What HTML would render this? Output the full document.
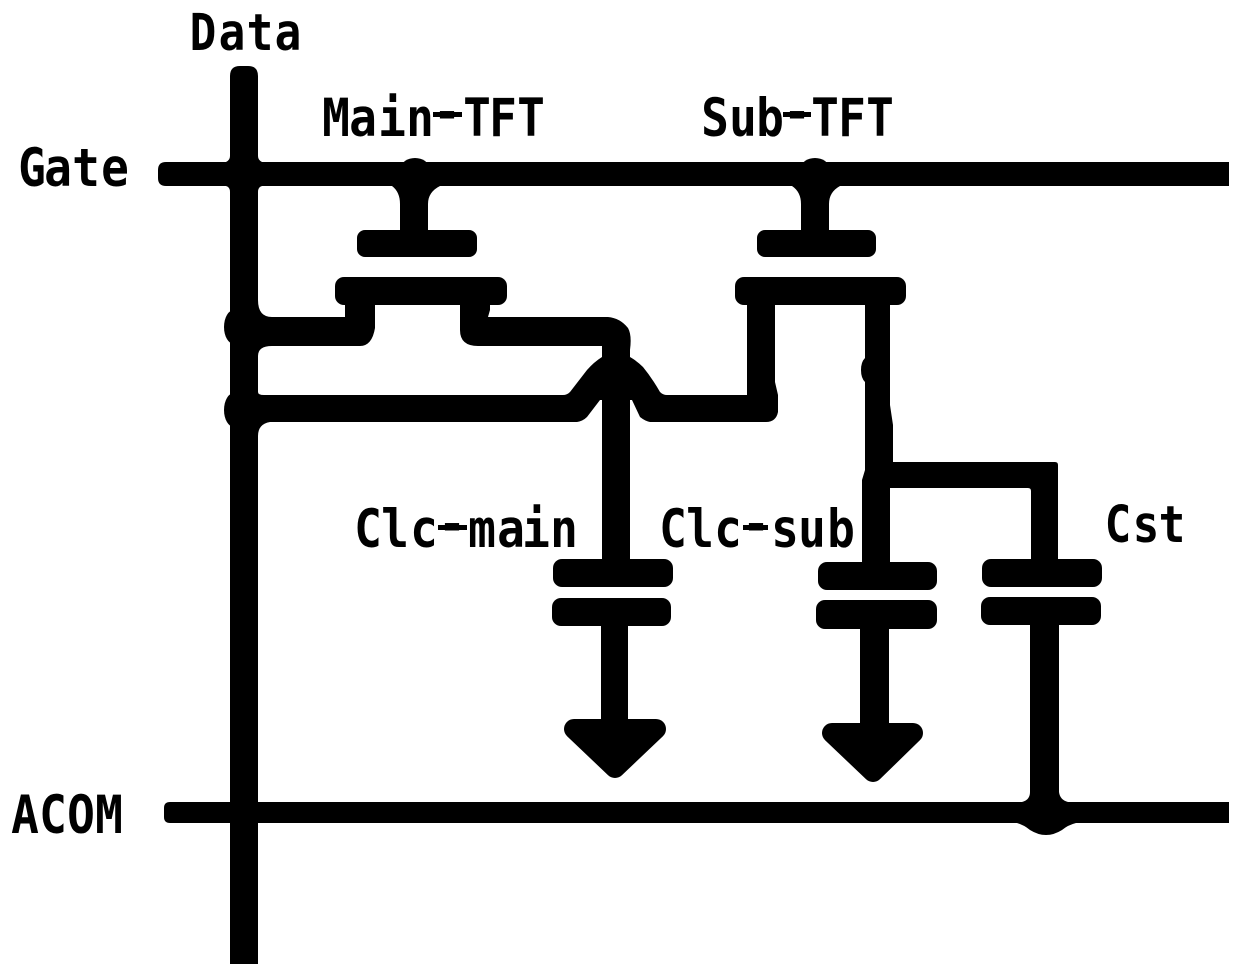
<!DOCTYPE html>
<html>
<head>
<meta charset="utf-8">
<style>
html,body{margin:0;padding:0;background:#fff;width:1240px;height:974px;overflow:hidden}
svg{display:block}
text{font-family:"DejaVu Sans Mono",monospace;font-weight:bold;fill:#000;text-anchor:middle}
</style>
</head>
<body>
<svg width="1240" height="974" viewBox="0 0 1240 974" xmlns="http://www.w3.org/2000/svg">
<rect width="1240" height="974" fill="#fff"/>
<g fill="#000">
  <!-- Data bus -->
  <path d="M230 964V76Q230 66 240 66H248Q258 66 258 76V964Z"/>
  <!-- Gate bus -->
  <path d="M1229 162V186H166Q158 186 158 178V170Q158 162 166 162Z"/>
  <!-- ACOM bus -->
  <path d="M1229 802V823H170Q164 823 164 817V808Q164 802 170 802Z"/>
  <!-- bus fillets -->
  <path d="M226 162Q230 160 230 156V192Q230 187 226 186ZM262 162Q258 160 258 156V192Q258 187 262 186Z"/>

  <!-- Main TFT gate -->
  <ellipse cx="415" cy="168" rx="14" ry="10"/>
  <path d="M392 186Q400 192 400 204V232H428V204Q428 192 440 186Z"/>
  <rect x="357" y="230" width="120" height="27" rx="8"/>
  <!-- Main TFT source/drain bar -->
  <rect x="335" y="277" width="172" height="28" rx="9"/>
  <path d="M250 300H258Q258 317 272 317H345V295H375V328Q372 346 360 346H272Q258 346 258 356H250Z"/>
  <path d="M460 295H490V310L488 317H608Q620 318 628 328Q632 335 630 350V360H602V346H478Q460 346 460 330Z"/>
  <ellipse cx="234" cy="327" rx="10" ry="17"/>

  <!-- Crossing wire with hop -->
  <path d="M250 392H258Q258 395 264 395H563Q567 395 570 392L587 370Q594 362 602 357H630Q637 361 643 367Q652 378 660 392Q663 395 667 395H747V300H775V382L778 395V412Q776 422 766 422H650Q645 421 640 417L632 400H600L587 417Q583 421 577 422H270Q258 424 258 436H250Z"/>
  <ellipse cx="234" cy="410" rx="10" ry="17"/>
  <!-- Main pixel trunk -->
  <rect x="602" y="340" width="28" height="225"/>

  <!-- Sub TFT gate -->
  <ellipse cx="815" cy="168" rx="14" ry="10"/>
  <path d="M792 186Q801 192 801 204V232H829V204Q829 192 840 186Z"/>
  <rect x="757" y="230" width="119" height="27" rx="8"/>
  <!-- Sub TFT bar -->
  <rect x="735" y="277" width="171" height="28" rx="9"/>
  <path d="M865 300H890V405L893 425V465H890V565H862V480L865 470V382Q861 378 861 370Q861 362 865 358Z"/>
  <!-- Branch to Cst -->
  <path d="M885 462H1055Q1058 462 1058 465V565H1031V491Q1031 488 1028 488H885Z"/>

  <!-- Capacitor plates -->
  <rect x="553" y="559" width="120" height="28" rx="9"/>
  <rect x="552" y="598" width="119" height="28" rx="9"/>
  <rect x="818" y="562" width="119" height="28" rx="9"/>
  <rect x="816" y="600" width="121" height="29" rx="9"/>
  <rect x="982" y="559" width="120" height="28" rx="9"/>
  <rect x="981" y="597" width="120" height="28" rx="9"/>

  <!-- Stems -->
  <rect x="601" y="620" width="27" height="110"/>
  <rect x="860" y="620" width="29" height="110"/>
  <path d="M1030 620H1059V792Q1060 800 1068 802H1022Q1030 800 1030 792Z"/>

  <!-- ACOM junction bump -->
  <path d="M1017 823H1076Q1068 825 1062 830Q1054 835 1046 835Q1038 835 1030 830Q1024 825 1017 823Z"/>
</g>

<!-- Ground arrows -->
<g fill="#000" stroke="#000" stroke-width="20" stroke-linejoin="round">
  <path d="M574 729H656L615 768Z"/>
  <path d="M832 733H913L873 772Z"/>
</g>

<!-- Labels -->
<text font-size="51" transform="scale(.87,1)" x="233.3 266.7 298.9 331" y="50">Data</text>
<text font-size="53" transform="scale(.87,1)" x="386.2 417.2 450.6 482.8 513.8 548.3 578.2 610.3" y="136" dy="0 0 0 0 -6 6 0 0">Main-TFT</text>
<text font-size="53" transform="scale(.87,1)" x="821.8 854 885.1 916.1 948.3 979.3 1011.5" y="136" dy="0 0 0 -6 6 0 0">Sub-TFT</text>
<text font-size="53" transform="scale(.87,1)" x="36.8 66.7 98.9 132.2" y="186">Gate</text>
<text font-size="53" transform="scale(.87,1)" x="423 454 487.4 519.5 554 587.4 616.1 648.3" y="547" dy="0 0 0 -5 5 0 0 0">Clc-main</text>
<text font-size="53" transform="scale(.87,1)" x="773.6 804.6 836.8 869 902.3 933.3 966.7" y="547" dy="0 0 0 -5 5 0 0">Clc-sub</text>
<text font-size="51" transform="scale(.87,1)" x="1285.1 1317.2 1347.1" y="542">Cst</text>
<text font-size="53" transform="scale(.87,1)" x="28.7 60.9 93.1 125.3" y="833">ACOM</text>
<!-- long hyphen strokes -->
<g fill="#000">
  <rect x="433" y="112" width="29" height="5"/>
  <rect x="783" y="112" width="28" height="5"/>
  <rect x="438" y="525" width="29" height="5"/>
  <rect x="743" y="525" width="25" height="5"/>
</g>
</svg>
</body>
</html>
